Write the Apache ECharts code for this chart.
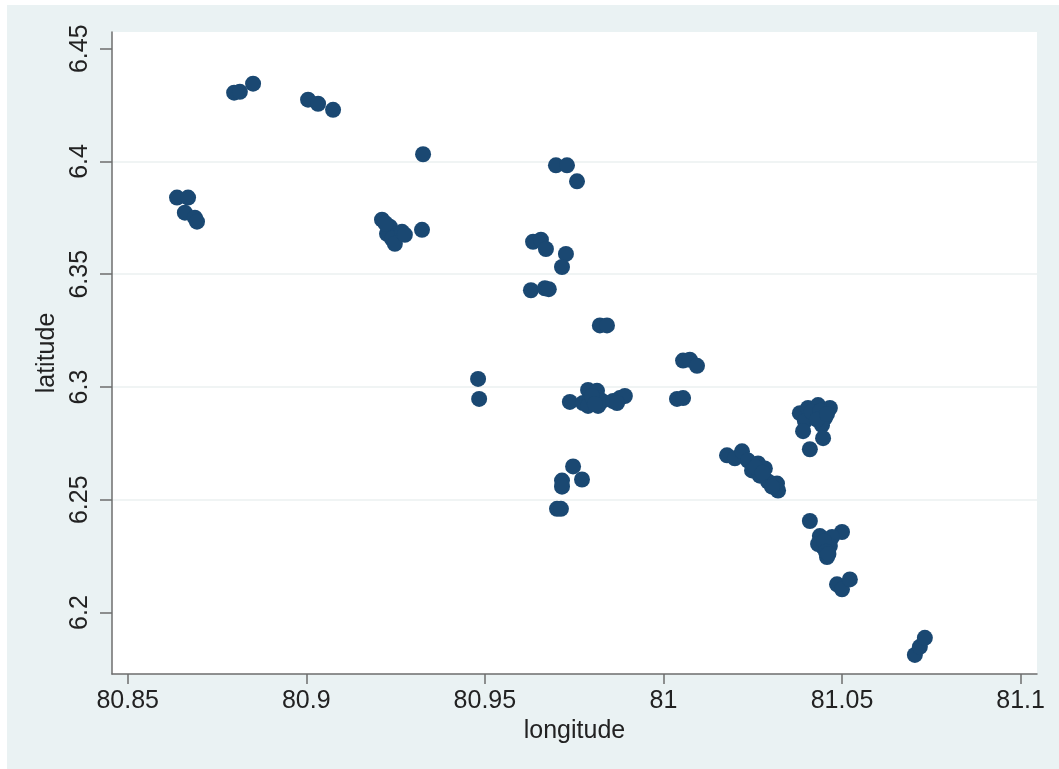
<!DOCTYPE html>
<html>
<head>
<meta charset="utf-8">
<script src="https://cdn.jsdelivr.net/npm/echarts@6/dist/echarts.min.js"></script>
<style>
html,body{margin:0;padding:0;background:#ffffff;width:1059px;height:769px;overflow:hidden;}
#chart{position:absolute;left:7px;top:5px;width:1052px;height:764px;background:#eaf2f3;}
</style>
</head>
<body>
<div id="chart"></div>
<script>
// longitude / latitude of each site
const longitude = [
  80.8638, 80.8669, 80.8660, 80.8688, 80.8694,
  80.8798, 80.8814, 80.8851,
  80.9005, 80.9033, 80.9075,
  80.9327,
  80.9212, 80.9234, 80.9226, 80.9240, 80.9248, 80.9268, 80.9276, 80.9324, 80.9222,
  80.9481, 80.9484,
  80.9699, 80.9730, 80.9758,
  80.9635, 80.9657, 80.9671, 80.9727, 80.9716,
  80.9629, 80.9668, 80.9679,
  80.9822, 80.9842,
  80.9738, 80.9789, 80.9814, 80.9775, 80.9794, 80.9817, 80.9817, 80.9789, 80.9828, 80.9859, 80.9878, 80.9892, 80.9870, 80.9800, 80.9808,
  81.0055, 81.0074, 81.0094,
  81.0038, 81.0055,
  80.9747, 80.9716, 80.9716, 80.9772, 80.9702, 80.9713,
  81.0178, 81.0200, 81.0220, 81.0237, 81.0265, 81.0284, 81.0248, 81.0270, 81.0293, 81.0318, 81.0321, 81.0304, 81.0258, 81.0278,
  81.0382, 81.0405, 81.0433, 81.0466, 81.0424, 81.0452, 81.0396, 81.0444, 81.0391, 81.0447, 81.0410, 81.0415, 81.0440, 81.0430, 81.0458,
  81.0410, 81.0500, 81.0438, 81.0472, 81.0447, 81.0458, 81.0433, 81.0466, 81.0450, 81.0455, 81.0462,
  81.0486, 81.0500, 81.0522,
  81.0704, 81.0718, 81.0732
];
const latitude = [
  6.3840, 6.3840, 6.3773, 6.3751, 6.3733,
  6.4305, 6.4309, 6.4345,
  6.4274, 6.4256, 6.4229,
  6.4032,
  6.3742, 6.3711, 6.3679, 6.3657, 6.3635, 6.3688, 6.3675, 6.3697, 6.3725,
  6.3036, 6.2947,
  6.3983, 6.3983, 6.3912,
  6.3644, 6.3653, 6.3612, 6.3590, 6.3532,
  6.3429, 6.3438, 6.3434,
  6.3273, 6.3273,
  6.2934, 6.2987, 6.2983, 6.2929, 6.2942, 6.2951, 6.2916, 6.2916, 6.2938, 6.2938, 6.2951, 6.2960, 6.2929, 6.2960, 6.2925,
  6.3117, 6.3121, 6.3094,
  6.2947, 6.2951,
  6.2648, 6.2585, 6.2558, 6.2590, 6.2460, 6.2460,
  6.2697, 6.2684, 6.2715, 6.2674, 6.2661, 6.2639, 6.2630, 6.2607, 6.2581, 6.2572, 6.2541, 6.2558, 6.2645, 6.2620,
  6.2884, 6.2907, 6.2920, 6.2907, 6.2871, 6.2862, 6.2849, 6.2831, 6.2804, 6.2773, 6.2724, 6.2890, 6.2895, 6.2855, 6.2880,
  6.2406, 6.2357, 6.2339, 6.2335, 6.2290, 6.2246, 6.2304, 6.2295, 6.2315, 6.2270, 6.2260,
  6.2125, 6.2103, 6.2147,
  6.1812, 6.1848, 6.1888
];
const xTicks = [80.85, 80.9, 80.95, 81, 81.05, 81.1];
const yTicks = [6.2, 6.25, 6.3, 6.35, 6.4, 6.45];

const points = longitude.map((v, i) => [v, latitude[i]]);
const font = 'Liberation Sans, Arial, Helvetica, sans-serif';
const axisColor = '#6e6e6e';

const chart = echarts.init(document.getElementById('chart'), null, {renderer: 'canvas'});
chart.setOption({
  backgroundColor: 'transparent',
  animation: false,
  grid: {
    left: 105, top: 27, width: 925, height: 642,
    show: true, backgroundColor: '#ffffff', borderWidth: 0,
    containLabel: false
  },
  xAxis: {
    type: 'value',
    min: 80.8456, max: 81.1046,
    name: 'longitude',
    nameLocation: 'middle',
    nameGap: 44,
    nameTextStyle: {fontFamily: font, fontSize: 25, color: '#222'},
    axisLine: {show: true, onZero: false, lineStyle: {color: axisColor, width: 1.5}},
    axisTick: {show: true, customValues: xTicks, length: 10, lineStyle: {color: axisColor, width: 1.5}},
    axisLabel: {customValues: xTicks, fontFamily: font, fontSize: 25, color: '#222', margin: 15},
    splitLine: {show: false}
  },
  yAxis: {
    type: 'value',
    min: 6.17275, max: 6.45741,
    name: 'latitude',
    nameLocation: 'middle',
    nameGap: 46,
    nameTextStyle: {fontFamily: font, fontSize: 25, color: '#222'},
    axisLine: {show: true, onZero: false, lineStyle: {color: axisColor, width: 1.5}},
    axisTick: {show: true, customValues: yTicks, length: 12, lineStyle: {color: axisColor, width: 1.5}},
    axisLabel: {customValues: yTicks, rotate: 90, fontFamily: font, fontSize: 25, color: '#222', margin: 19},
    splitLine: {show: true, showMinLine: false, showMaxLine: false, lineStyle: {color: '#ebf0f0', width: 1.5}}
  },
  series: [{
    type: 'scatter',
    data: points,
    symbol: 'circle',
    symbolSize: 16,
    itemStyle: {color: '#1a4872', opacity: 1},
    silent: true
  }]
});
</script>
</body>
</html>
